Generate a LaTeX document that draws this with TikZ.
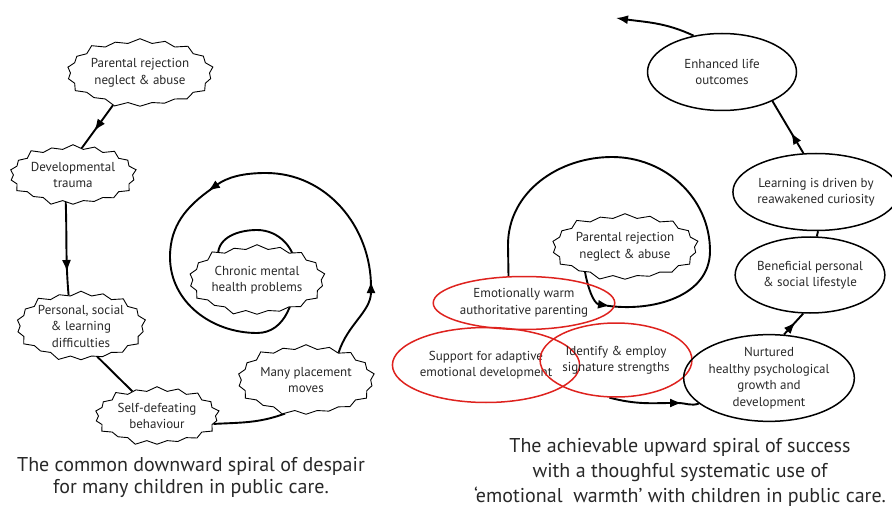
\documentclass[tikz,border=0pt]{standalone}
\usepackage{fontspec}
\setmainfont{PT Sans}
\usetikzlibrary{shapes.symbols,shapes.geometric,arrows.meta,decorations.markings,backgrounds}
\definecolor{warmred}{RGB}{222,34,30}
\definecolor{inktext}{RGB}{40,40,40}
\begin{document}
\begin{tikzpicture}[x=1pt,y=1pt,
 burst/.style={starburst, starburst points=18, starburst point height=6pt, draw, line width=0.9pt, fill=white, inner sep=0pt, align=center, font=\fontsize{13}{16.5}\selectfont, text=inktext},
 oval/.style={ellipse, draw, line width=1.5pt, inner sep=0pt, align=center, font=\fontsize{13}{16.5}\selectfont, text=inktext},
 redoval/.style={oval, draw=warmred},
 conn/.style={line width=1.9pt},
 tipped/.style={-{Latex[length=12pt,width=9pt]}},
 midarrow/.style={postaction={decorate}, decoration={markings, mark=at position #1 with {\arrow{Latex[length=12pt,width=9pt]}}}},
 caption/.style={align=center, text=inktext}
]
\useasboundingbox (0,0) rectangle (892,507);

% ---------- left diagram ----------
\node[burst, minimum width=115pt, minimum height=72pt] (par) at (140,434) {Parental rejection\\neglect \& abuse};
\node[burst, minimum width=130pt, minimum height=64pt] (dev) at (73,332) {Developmental\\trauma};
\node[burst, minimum width=128pt, minimum height=73pt] (pers) at (81,181) {Personal, social\\\& learning\\difficulties};
\node[burst, minimum width=129pt, minimum height=62pt] (self) at (157,91) {Self-defeating\\behaviour};
\node[burst, minimum width=128pt, minimum height=74pt] (many) at (306,127) {Many placement\\moves};
\node[burst, minimum width=127pt, minimum height=74pt] (chron) at (257,227) {Chronic mental\\health problems};

\begin{pgfonlayer}{background}
\draw[conn, midarrow=0.6] (par.-130) -- (dev.72);
\draw[conn, midarrow=0.75] (dev.-105) to[out=-88,in=95] (pers.112);
\draw[conn] (pers.-62) -- (self.135);
\draw[conn] (self.-8) to[out=3,in=200] (many.-122);
\draw[conn, tipped] (many.40) to[out=72,in=-90] (371,226);
\draw[conn, tipped] (371,220) to[out=90,in=0] (266,334) to[out=180,in=35] (208,316);
\draw[conn] (212,318.5) to[out=215,in=90] (170,250) to[out=-90,in=180] (257,174) to[out=0,in=-90] (296,237) to[out=90,in=0] (257,277) to[out=180,in=90] (218,252) to[out=-90,in=180] (250,217);
\end{pgfonlayer}

\node[caption, font=\fontsize{20}{22}\selectfont] (capL) at (191,30) {The common downward spiral of despair\\for many children in public care.};

% ---------- right diagram ----------
\node[burst, minimum width=126pt, minimum height=70pt] (par2) at (625,260) {Parental rejection\\neglect \& abuse};
\node[redoval, minimum width=138pt, minimum height=53pt] (emo) at (524,204) {Emotionally warm\\authoritative parenting};
\node[redoval, minimum width=148pt, minimum height=75pt] (supp) at (486,142) {Support for adaptive\\emotional development};
\node[redoval, minimum width=127pt, minimum height=74pt] (ident) at (616,147) {Identify \& employ\\signature strengths};
\node[oval, minimum width=142pt, minimum height=79pt] (nurt) at (769,129) {Nurtured\\healthy psychological\\growth and\\development};
\node[oval, minimum width=146pt, minimum height=76pt] (ben) at (810,232) {Beneficial personal\\\& social lifestyle};
\node[oval, minimum width=146pt, minimum height=77pt] (learn) at (816,315) {Learning is driven by\\reawakened curiosity};
\node[oval, minimum width=149pt, minimum height=77pt] (enh) at (722,435) {Enhanced life\\outcomes};
\coordinate (away) at (616,489);

\begin{pgfonlayer}{background}
\draw[conn, tipped] (par2.212) to[out=-80,in=172] (610,201);
\draw[conn] (607,201.3) to[out=-8,in=-90] (710,256) to[out=90,in=0] (612,350) to[out=180,in=90] (508,262) -- (emo.120);
\draw[conn, tipped] (ident.-100) to[out=-15,in=180] (682,104);
\draw[conn] (678,104) to[out=0,in=200] (nurt.200);
\draw[conn, midarrow=0.6] (nurt.71) -- (ben.-100);
\draw[conn] (ben.80) -- (learn.-87);
\draw[conn, midarrow=0.4] (learn.108) -- (enh.-30);
\draw[conn, tipped] (enh.128) to[out=155,in=-8] (away);
\end{pgfonlayer}

\node[caption, font=\fontsize{20}{25}\selectfont] (capR) at (680,35) {The achievable upward spiral of success\\with a thoughful systematic use of\\‘emotional\ \ warmth’ with children in public care.};
\end{tikzpicture}
\end{document}
